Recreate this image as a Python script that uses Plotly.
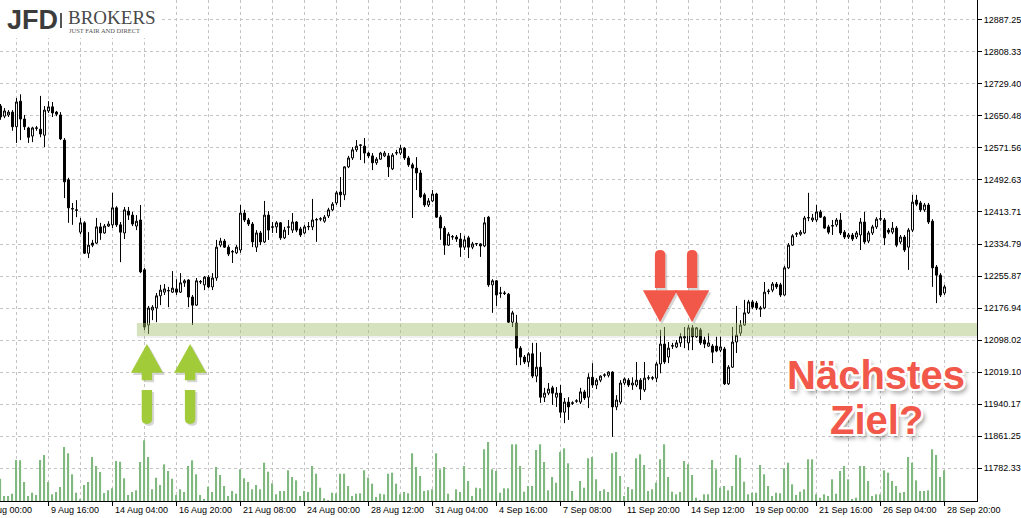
import plotly.graph_objects as go

# ---------------- data (H4 candles) ----------------
open_ = [12675, 12650, 12653, 12660, 12624, 12687, 12643, 12621, 12601, 12620,
         12618, 12603, 12663, 12673, 12660, 12653, 12591, 12493, 12421, 12419,
         12364, 12387, 12312, 12337, 12337, 12377, 12362, 12379, 12382, 12424,
         12382, 12362, 12416, 12406, 12379, 12394, 12271, 12135, 12172, 12177,
         12207, 12216, 12219, 12216, 12224, 12216, 12239, 12246, 12204, 12184,
         12241, 12234, 12253, 12229, 12251, 12332, 12342, 12327, 12315, 12313,
         12320, 12411, 12394, 12384, 12327, 12362, 12340, 12406, 12376, 12377,
         12387, 12350, 12376, 12369, 12389, 12372, 12362, 12377, 12377, 12394,
         12396, 12391, 12404, 12419, 12436, 12463, 12456, 12525, 12547, 12567,
         12578, 12576, 12559, 12552, 12535, 12544, 12552, 12552, 12520, 12559,
         12559, 12571, 12547, 12530, 12522, 12510, 12456, 12431, 12441, 12458,
         12401, 12374, 12332, 12352, 12352, 12347, 12327, 12350, 12327, 12335,
         12335, 12330, 12401, 12234, 12244, 12213, 12214, 12211, 12142, 12140,
         12078, 12056, 12044, 12064, 12009, 12031, 11957, 11967, 11980, 11957,
         11967, 11920, 11945, 11943, 11947, 11945, 11970, 11957, 12006, 11987,
         11999, 12011, 12011, 12019, 11933, 11945, 11992, 11999, 11987, 11987,
         11999, 11975, 12004, 12005, 12004, 12039, 12088, 12056, 12083, 12081,
         12091, 12103, 12091, 12128, 12106, 12123, 12098, 12083, 12083, 12083,
         12073, 12076, 11990, 12031, 12093, 12115, 12135, 12165, 12192, 12189,
         12174, 12177, 12219, 12221, 12236, 12234, 12209, 12276, 12332, 12359,
         12359, 12362, 12399, 12394, 12394, 12414, 12401, 12377, 12379, 12382,
         12394, 12364, 12352, 12357, 12352, 12357, 12389, 12342, 12362, 12377,
         12396, 12394, 12369, 12364, 12374, 12340, 12352, 12327, 12369, 12443,
         12436, 12419, 12431, 12391, 12278, 12258, 12214]
high = [12680, 12670, 12665, 12665, 12695, 12704, 12653, 12624, 12624, 12626,
        12700, 12675, 12687, 12685, 12663, 12660, 12596, 12498, 12436, 12443,
        12399, 12391, 12364, 12345, 12399, 12387, 12384, 12391, 12461, 12428,
        12389, 12426, 12426, 12414, 12406, 12431, 12276, 12182, 12184, 12214,
        12234, 12236, 12229, 12268, 12248, 12263, 12248, 12248, 12209, 12251,
        12246, 12256, 12258, 12263, 12345, 12350, 12347, 12332, 12320, 12332,
        12431, 12419, 12399, 12389, 12369, 12367, 12441, 12416, 12389, 12391,
        12389, 12377, 12394, 12411, 12391, 12377, 12382, 12389, 12446, 12399,
        12401, 12406, 12424, 12438, 12466, 12500, 12526, 12552, 12574, 12591,
        12580, 12596, 12562, 12559, 12549, 12562, 12564, 12559, 12559, 12567,
        12579, 12574, 12552, 12535, 12549, 12517, 12461, 12448, 12468, 12461,
        12406, 12379, 12364, 12357, 12357, 12362, 12355, 12355, 12340, 12337,
        12337, 12401, 12404, 12248, 12246, 12229, 12219, 12214, 12170, 12160,
        12083, 12061, 12068, 12091, 12091, 12068, 11980, 11992, 11985, 11982,
        11987, 11955, 11957, 11947, 11952, 11980, 11975, 12016, 12041, 12004,
        12011, 12016, 12021, 12021, 11962, 11999, 12006, 12004, 12006, 12044,
        12004, 12044, 12011, 12009, 12044, 12123, 12130, 12093, 12091, 12098,
        12115, 12130, 12135, 12135, 12130, 12128, 12106, 12115, 12088, 12106,
        12106, 12081, 12036, 12130, 12182, 12147, 12197, 12197, 12197, 12194,
        12182, 12241, 12224, 12241, 12241, 12239, 12281, 12337, 12359, 12364,
        12369, 12404, 12461, 12409, 12431, 12419, 12404, 12382, 12394, 12399,
        12411, 12369, 12362, 12362, 12367, 12399, 12414, 12367, 12382, 12401,
        12419, 12399, 12374, 12389, 12379, 12357, 12357, 12374, 12456, 12456,
        12441, 12436, 12436, 12396, 12283, 12263, 12234]
low = [12641, 12645, 12648, 12614, 12584, 12591, 12616, 12584, 12586, 12614,
       12598, 12574, 12658, 12648, 12650, 12591, 12448, 12387, 12382, 12401,
       12359, 12310, 12300, 12327, 12335, 12345, 12360, 12377, 12374, 12377,
       12290, 12347, 12394, 12379, 12369, 12263, 12123, 12113, 12147, 12142,
       12184, 12209, 12179, 12214, 12209, 12214, 12229, 12179, 12135, 12182,
       12236, 12221, 12226, 12221, 12244, 12327, 12325, 12305, 12288, 12310,
       12313, 12389, 12379, 12327, 12315, 12332, 12337, 12345, 12362, 12362,
       12345, 12347, 12357, 12362, 12364, 12352, 12359, 12369, 12369, 12340,
       12391, 12387, 12399, 12416, 12431, 12426, 12443, 12522, 12542, 12562,
       12542, 12534, 12547, 12517, 12530, 12542, 12549, 12500, 12517, 12554,
       12554, 12542, 12525, 12399, 12468, 12448, 12426, 12426, 12438, 12399,
       12345, 12308, 12330, 12345, 12340, 12303, 12320, 12300, 12322, 12330,
       12303, 12327, 12229, 12165, 12182, 12202, 12209, 12140, 12130, 12036,
       12036, 12039, 12032, 12004, 11994, 11943, 11945, 11962, 11938, 11933,
       11906, 11893, 11901, 11938, 11943, 11940, 11950, 11930, 11980, 11977,
       11994, 12006, 12006, 11859, 11925, 11940, 11987, 11982, 11975, 11982,
       11950, 11970, 11999, 11999, 11994, 12016, 12039, 12041, 12076, 12078,
       12081, 12078, 12073, 12073, 12103, 12086, 12078, 12081, 12041, 12068,
       12068, 11987, 11987, 12029, 12066, 12108, 12133, 12162, 12174, 12172,
       12155, 12174, 12211, 12216, 12224, 12204, 12207, 12273, 12330, 12352,
       12355, 12359, 12391, 12389, 12389, 12399, 12372, 12359, 12357, 12377,
       12357, 12347, 12347, 12342, 12347, 12320, 12335, 12337, 12357, 12372,
       12391, 12332, 12359, 12359, 12327, 12335, 12315, 12271, 12364, 12428,
       12414, 12414, 12384, 12229, 12189, 12204, 12209]
close = [12648, 12663, 12660, 12624, 12685, 12643, 12624, 12598, 12621, 12621,
         12606, 12665, 12673, 12658, 12655, 12594, 12488, 12424, 12422, 12418,
         12387, 12312, 12332, 12332, 12377, 12362, 12379, 12384, 12424, 12382,
         12364, 12419, 12406, 12384, 12391, 12266, 12130, 12177, 12179, 12207,
         12221, 12224, 12220, 12226, 12216, 12239, 12244, 12204, 12184, 12244,
         12242, 12253, 12229, 12251, 12327, 12342, 12327, 12310, 12316, 12327,
         12411, 12394, 12384, 12340, 12362, 12340, 12406, 12369, 12377, 12387,
         12350, 12369, 12377, 12389, 12369, 12357, 12377, 12378, 12394, 12395,
         12397, 12401, 12419, 12433, 12461, 12456, 12525, 12547, 12567, 12576,
         12579, 12559, 12552, 12535, 12544, 12559, 12559, 12525, 12554, 12560,
         12571, 12547, 12530, 12522, 12510, 12451, 12431, 12441, 12458, 12401,
         12374, 12332, 12359, 12353, 12347, 12327, 12345, 12327, 12335, 12336,
         12330, 12387, 12234, 12244, 12209, 12214, 12213, 12142, 12165, 12078,
         12056, 12044, 12064, 12009, 12031, 11957, 11967, 11977, 11967, 11967,
         11920, 11945, 11933, 11942, 11948, 11970, 11955, 12006, 11987, 11999,
         12009, 12012, 12019, 11933, 11950, 11992, 12002, 11987, 11992, 11999,
         11977, 12004, 12005, 12004, 12039, 12088, 12044, 12078, 12084, 12091,
         12106, 12106, 12128, 12106, 12128, 12091, 12088, 12091, 12068, 12071,
         12081, 11990, 12031, 12093, 12110, 12135, 12165, 12192, 12179, 12177,
         12177, 12216, 12218, 12236, 12229, 12209, 12276, 12332, 12355, 12360,
         12364, 12399, 12400, 12399, 12414, 12401, 12374, 12364, 12380, 12394,
         12362, 12352, 12357, 12347, 12362, 12389, 12340, 12362, 12377, 12396,
         12397, 12350, 12364, 12374, 12332, 12352, 12320, 12369, 12438, 12433,
         12419, 12431, 12389, 12276, 12258, 12209, 12229]
volume = [223, 50, 50, 73, 410, 407, 190, 50, 83, 60,
          410, 460, 190, 67, 90, 140, 540, 477, 267, 83,
          17, 160, 190, 440, 350, 290, 80, 107, 127, 400,
          393, 227, 60, 90, 107, 390, 607, 440, 117, 233,
          160, 367, 300, 223, 60, 117, 90, 350, 407, 267,
          60, 17, 143, 90, 340, 260, 150, 50, 100, 73,
          317, 227, 190, 117, 160, 117, 383, 293, 177, 67,
          100, 100, 307, 240, 207, 50, 100, 90, 350, 273,
          133, 27, 10, 83, 77, 273, 273, 150, 50, 73,
          77, 307, 233, 173, 40, 73, 67, 273, 283, 173,
          67, 90, 77, 477, 340, 250, 100, 107, 117, 477,
          317, 340, 73, 10, 117, 90, 350, 200, 50, 133,
          127, 517, 590, 317, 300, 83, 127, 127, 567, 567,
          350, 93, 150, 150, 510, 567, 390, 107, 240, 183,
          490, 527, 377, 100, 7, 200, 133, 427, 440, 217,
          100, 117, 90, 477, 490, 250, 50, 140, 117, 427,
          467, 360, 100, 117, 183, 417, 567, 240, 93, 67,
          90, 400, 367, 260, 33, 7, 67, 67, 410, 317,
          133, 150, 107, 150, 460, 433, 193, 67, 83, 83,
          360, 267, 150, 50, 83, 77, 327, 383, 167, 60,
          93, 117, 417, 417, 67, 33, 67, 50, 217, 73,
          300, 350, 217, 17, 33, 350, 350, 200, 50, 67,
          67, 307, 283, 200, 150, 83, 90, 440, 383, 207,
          100, 100, 107, 517, 460, 240, 307]
bar_index = list(range(len(close)))

x_label_pos = [-4, 12, 28, 44, 60, 76, 92, 108, 124, 140, 156, 172, 188, 204, 220, 236]
x_labels = ["8 Aug 00:00", "9 Aug 16:00", "14 Aug 04:00", "16 Aug 20:00", "21 Aug 08:00",
            "24 Aug 00:00", "28 Aug 12:00", "31 Aug 04:00", "4 Sep 16:00", "7 Sep 08:00",
            "11 Sep 20:00", "14 Sep 12:00", "19 Sep 00:00", "21 Sep 16:00", "26 Sep 04:00",
            "28 Sep 20:00"]
y_ticks = [11782.33, 11861.25, 11940.17, 12019.10, 12098.02, 12176.94, 12255.87,
           12334.79, 12413.71, 12492.63, 12571.56, 12650.48, 12729.40, 12808.33, 12887.25]

# annotation levels
support_band = [12108, 12140]          # price zone of the green band
support_start = 34.1                   # bar index where the band starts
green_arrow_x = [36.6, 47.4]
red_arrow_x = [164.9, 172.9]

# ---------------- layout helpers ----------------
X0, X1 = -0.125, 244.125
Y0, Y1 = 11701.0, 12936.5
PW, PH = 977, 501


def pxx(p):
    return p / PW


def pxy(p):
    return 1 - p / PH


GRID = "#c4c4c4"
FONT = "Liberation Sans"

fig = go.Figure()
fig.add_trace(go.Bar(
    x=bar_index, y=volume, yaxis="y2", width=0.3,
    marker=dict(color="rgb(128,184,128)", line=dict(width=0)),
    hoverinfo="skip"))
fig.add_trace(go.Candlestick(
    x=bar_index, open=open_, high=high, low=low, close=close,
    increasing=dict(line=dict(color="black", width=1), fillcolor="white"),
    decreasing=dict(line=dict(color="black", width=1), fillcolor="black"),
    whiskerwidth=0))

shapes = []
# white box behind logo
shapes.append(dict(type="rect", xref="paper", yref="paper", x0=0, x1=pxx(160),
                   y0=pxy(38), y1=1, fillcolor="white", line=dict(width=0), layer="above"))
shapes.append(dict(type="line", xref="paper", yref="paper", x0=pxx(61), x1=pxx(61),
                   y0=pxy(28), y1=pxy(13), line=dict(color="#555", width=2), layer="above"))

# support band
shapes.append(dict(type="rect", xref="x", yref="y", x0=support_start, x1=250,
                   y0=support_band[0] - 5, y1=support_band[0],
                   fillcolor="rgba(0,0,0,0.06)", line=dict(width=0), layer="above"))
shapes.append(dict(type="rect", xref="x", yref="y", x0=support_start, x1=250,
                   y0=support_band[0], y1=support_band[1],
                   fillcolor="rgba(165,190,110,0.45)", line=dict(width=0), layer="above"))


def up_arrow(cx, dx=0.0, dy=0.0):
    hw, sw = 4.0, 1.3
    tip, base, stub = 12088 + dy, 12017 + dy, 11999 + dy
    c = cx + dx
    head = (f"M {c-hw},{base} L {c},{tip} L {c+hw},{base} L {c+sw},{base} "
            f"L {c+sw},{stub} L {c-sw},{stub} L {c-sw},{base} Z")
    top, bot = 11975 + dy, 11891 + dy
    bar = (f"M {c-sw},{top} L {c-sw},{bot+12} Q {c-sw},{bot} {c},{bot} "
           f"Q {c+sw},{bot} {c+sw},{bot+12} L {c+sw},{top} Z")
    return head, bar


def down_arrow(cx, dx=0.0, dy=0.0):
    hw, sw = 4.3, 1.3
    c = cx + dx
    top, bot = 12320 + dy, 12226 + dy
    bar = (f"M {c-sw},{bot} L {c-sw},{top-12} Q {c-sw},{top} {c},{top} "
           f"Q {c+sw},{top} {c+sw},{top-12} L {c+sw},{bot} Z")
    base, tip = 12221 + dy, 12142 + dy
    head = f"M {c-hw},{base} L {c+hw},{base} L {c},{tip} Z"
    return head, bar


for cx in green_arrow_x:
    for p in up_arrow(cx, 0.5, -5):
        shapes.append(dict(type="path", xref="x", yref="y", path=p,
                           fillcolor="rgba(0,0,0,0.16)", line=dict(width=0), layer="above"))
    for p in up_arrow(cx):
        shapes.append(dict(type="path", xref="x", yref="y", path=p,
                           fillcolor="#a2cb3a", line=dict(width=0), layer="above"))
for cx in red_arrow_x:
    for p in down_arrow(cx, 0.5, -5):
        shapes.append(dict(type="path", xref="x", yref="y", path=p,
                           fillcolor="rgba(0,0,0,0.16)", line=dict(width=0), layer="above"))
for cx in red_arrow_x:
    for p in down_arrow(cx):
        shapes.append(dict(type="path", xref="x", yref="y", path=p,
                           fillcolor="#f2584a", line=dict(width=0), layer="above"))

annotations = []
for i, (pos, lab) in enumerate(zip(x_label_pos, x_labels)):
    annotations.append(dict(text=lab, xref="paper", yref="paper",
                            x=(pos - X0) / (X1 - X0), y=0, xanchor="left", yanchor="top",
                            xshift=-3 if i == 0 else 0, yshift=-2, showarrow=False,
                            font=dict(family=FONT, size=9, color="black")))

# logo
annotations.append(dict(text="<b>JFD</b>", xref="paper", yref="paper", x=pxx(5), y=pxy(20),
                        xanchor="left", yanchor="middle", showarrow=False,
                        font=dict(family="Liberation Sans", size=27, color="#3c3c3c")))
annotations.append(dict(text="BROKERS", xref="paper", yref="paper", x=pxx(66), y=pxy(17),
                        xanchor="left", yanchor="middle", showarrow=False,
                        font=dict(family="Liberation Serif", size=19, color="#4a4a4a")))
annotations.append(dict(text="JUST FAIR AND DIRECT", xref="paper", yref="paper", x=pxx(67), y=pxy(30),
                        xanchor="left", yanchor="middle", showarrow=False,
                        font=dict(family="Liberation Serif", size=6.5, color="#555")))

outline = ("2px 2px 0 #fff, -2px -2px 0 #fff, 2px -2px 0 #fff, -2px 2px 0 #fff, "
           "0 2px 0 #fff, 2px 0 0 #fff, 0 -2px 0 #fff, -2px 0 0 #fff, "
           "3px 4px 5px rgba(0,0,0,0.45)")
annotations.append(dict(text="<b>Nächstes</b>", xref="x", yref="y", x=218.9, y=12012,
                        xanchor="center", yanchor="middle", showarrow=False,
                        font=dict(family=FONT, size=40, color="#f2584a", shadow=outline)))
annotations.append(dict(text="<b>Ziel?</b>", xref="x", yref="y", x=218.9, y=11901,
                        xanchor="center", yanchor="middle", showarrow=False,
                        font=dict(family=FONT, size=40, color="#f2584a", shadow=outline)))

fig.update_layout(
    width=1021, height=518,
    margin=dict(l=0, r=44, t=0, b=17),
    paper_bgcolor="white", plot_bgcolor="white",
    showlegend=False,
    shapes=shapes, annotations=annotations,
    xaxis=dict(range=[X0, X1], rangeslider=dict(visible=False),
               tickmode="array", tickvals=x_label_pos, showticklabels=False,
               ticks="outside", ticklen=4, tickcolor="black",
               showline=True, linecolor="black", linewidth=1,
               showgrid=True, gridcolor=GRID, griddash="3px,3px", gridwidth=1,
               zeroline=False,
               minor=dict(tickmode="linear", tick0=4, dtick=16, showgrid=True,
                          gridcolor=GRID, griddash="3px,3px", ticks="")),
    yaxis=dict(side="right", range=[Y0, Y1], tickmode="array", tickvals=y_ticks,
               ticktext=[f"{v:.2f}" for v in y_ticks],
               ticks="outside", ticklen=4, tickcolor="black",
               showline=True, linecolor="black", linewidth=1,
               showgrid=True, gridcolor=GRID, griddash="3px,3px", gridwidth=1,
               zeroline=False, tickfont=dict(family=FONT, size=9, color="black")),
    yaxis2=dict(overlaying="y", range=[0, 5010], visible=False, fixedrange=True),
)

fig.write_html("out.html", config={"displayModeBar": False},
               post_script="document.body.style.margin='0px';")
